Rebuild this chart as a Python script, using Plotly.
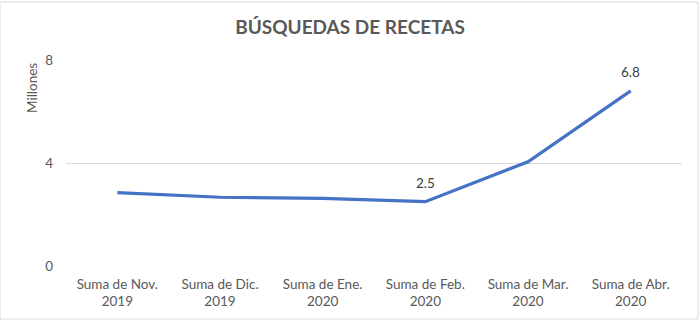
import plotly.graph_objects as go

categories = ["Suma de Nov.<br>2019", "Suma de Dic.<br>2019", "Suma de Ene.<br>2020",
              "Suma de Feb.<br>2020", "Suma de Mar.<br>2020", "Suma de Abr.<br>2020"]
values = [2.85, 2.67, 2.63, 2.5, 4.05, 6.8]
labels = ["", "", "", "2.5", "", "6.8"]

font = "Lato, Open Sans, sans-serif"

fig = go.Figure()
fig.add_trace(go.Scatter(
    x=categories, y=values, mode="lines",
    line=dict(color="#4472C4", width=3.2),
    showlegend=False,
))

annotations = [dict(text="Millones", xref="paper", yref="paper", x=-34/616, y=1-28/206,
                    textangle=-90, showarrow=False, xanchor="center", yanchor="middle",
                    font=dict(family=font, size=13.5, color="#595959"))]
for c, v, t in zip(categories, values, labels):
    if t:
        annotations.append(dict(text=t, x=c, y=v, xref="x", yref="y", showarrow=False,
                                yanchor="bottom", yshift=9,
                                font=dict(family=font, size=13.5, color="#404040")))

fig.update_layout(
    width=700, height=321,
    margin=dict(l=66, r=18, t=60, b=55),
    paper_bgcolor="white", plot_bgcolor="white",
    title=dict(text="<b>BÚSQUEDAS DE RECETAS</b>", x=0.5, xanchor="center", y=0.915, yanchor="middle",
               font=dict(family=font, size=19, color="#595959")),
    xaxis=dict(showgrid=False, showline=False, zeroline=False, ticks="", range=[-0.5, 5.5],
               ticklabelstandoff=8,
               tickfont=dict(family=font, size=13.5, color="#595959")),
    yaxis=dict(range=[0, 8], dtick=4, showgrid=True, gridcolor="#D9D9D9", gridwidth=1,
               zeroline=False, showline=False, ticks="", ticklabelstandoff=12,
               tickfont=dict(family=font, size=13.5, color="#595959")),
    shapes=[dict(type="rect", xref="paper", yref="paper", x0=-66/616, x1=1+16/616,
                 y0=-53/206, y1=1+58/206, line=dict(color="#D9D9D9", width=1))],
    annotations=annotations,
)
fig.write_html("out.html")
